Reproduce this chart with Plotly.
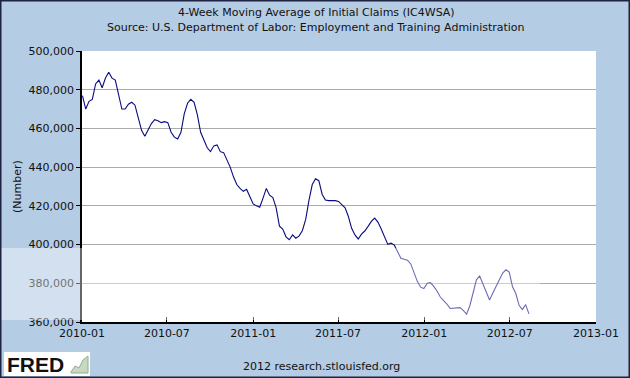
import plotly.graph_objects as go
import pandas as pd

start_date = "2010-01-02"
claims = [
    477, 470, 474, 475, 483, 485, 481, 486, 489, 486,
    485, 478, 470, 470, 472.5, 473.5, 472, 465.5, 459, 456,
    459, 462.5, 464.5, 464, 463, 463.5, 463, 458, 455.5, 454.5,
    458, 467.5, 473, 475, 473.5, 467, 458, 453.5, 450, 448,
    451, 451.5, 448, 447.5, 444, 440, 435, 431, 429, 427.5,
    428.5, 425, 421, 420, 419.3, 424, 429, 425.5, 424.3, 419,
    409.5, 408, 404, 402.5, 405, 403.3, 404.5, 407.3, 413, 423,
    431, 434, 433, 426, 423, 422.7, 422.7, 422.7, 422.3, 420.8,
    419, 414.5, 408.4, 405, 402.9, 405.4, 407, 409.4, 412, 413.7,
    411.6, 408, 404, 400.1, 400.7, 399.7, 396.3, 392.9, 392.4, 391.9,
    390, 385.5, 381, 378, 377.3, 380, 380.3, 378.4, 376, 372.9,
    371.2, 369.3, 367, 367.1, 367.5, 367.4, 366, 364, 368.4, 376,
    381.8, 383.8, 379.5, 375.4, 371.4, 375, 378.4, 381.7, 385.3, 387,
    385.8, 378.2, 374.7, 368.6, 366.4, 369, 364.2,
]
claims = [v * 1000 for v in claims]
dates = pd.date_range(start_date, periods=len(claims), freq="7D")

y_ticks = [360000, 380000, 400000, 420000, 440000, 460000, 480000, 500000]
x_ticks = ["2010-01-01", "2010-07-01", "2011-01-01", "2011-07-01",
           "2012-01-01", "2012-07-01", "2013-01-01"]
x_labels = ["2010-01", "2010-07", "2011-01", "2011-07", "2012-01", "2012-07", "2013-01"]

W, H = 630, 378
L, R, T, B = 82, 34, 51, 56
pw, ph = W - L - R, H - T - B

def px(x):
    return (x - L) / pw

def py(y):
    return (H - B - y) / ph

FONT = "DejaVu Sans"
BG = "#B4CCE4"
TXT = "#111111"

fig = go.Figure()
fig.add_trace(go.Scatter(
    x=dates, y=claims, mode="lines",
    line=dict(color="#0A0A80", width=1.1),
    hoverinfo="skip", showlegend=False,
))

fig.update_layout(
    width=W, height=H,
    margin=dict(l=L, r=R, t=T, b=B, autoexpand=False),
    paper_bgcolor=BG, plot_bgcolor="white",
    font=dict(family=FONT, size=11, color=TXT),
    xaxis=dict(
        range=["2010-01-01", "2013-01-01"],
        tickvals=x_ticks, ticktext=x_labels,
        showgrid=False, zeroline=False, automargin=False,
        showline=True, linecolor="black", linewidth=1.5,
        ticks="inside", ticklen=5, tickcolor="black",
        tickfont=dict(family=FONT, size=11, color=TXT),
    ),
    yaxis=dict(
        range=[360000, 500000],
        tickvals=y_ticks, tickformat=",d",
        showgrid=True, gridcolor="#ABABAB", gridwidth=1,
        zeroline=False, automargin=False,
        showline=True, linecolor="black", linewidth=1.5,
        ticks="outside", ticklen=4, tickcolor="black",
        tickfont=dict(family=FONT, size=11, color=TXT),
    ),
)

# titles
fig.add_annotation(text="4-Week Moving Average of Initial Claims (IC4WSA)",
                   xref="paper", yref="paper", x=px(316), y=py(13),
                   xanchor="center", yanchor="middle",
                   showarrow=False, font=dict(family=FONT, size=11, color=TXT))
fig.add_annotation(text="Source: U.S. Department of Labor: Employment and Training Administration",
                   xref="paper", yref="paper", x=px(316), y=py(27),
                   xanchor="center", yanchor="middle",
                   showarrow=False, font=dict(family=FONT, size=11, color=TXT))
fig.add_annotation(text="(Number)", textangle=-90,
                   xref="paper", yref="paper", x=px(17), y=py(187),
                   xanchor="center", yanchor="middle",
                   showarrow=False, font=dict(family=FONT, size=11, color=TXT))
fig.add_annotation(text="2012 research.stlouisfed.org",
                   xref="paper", yref="paper", x=px(321), y=py(366),
                   xanchor="center", yanchor="middle",
                   showarrow=False, font=dict(family=FONT, size=11, color=TXT))

# FRED logo box
fig.add_shape(type="rect", xref="paper", yref="paper",
              x0=px(4), x1=px(90), y0=py(376), y1=py(352),
              fillcolor="white", line=dict(width=0), layer="above")
fig.add_annotation(text="<b>FRED</b>", xref="paper", yref="paper",
                   x=px(5), y=py(364), xanchor="left", yanchor="middle", showarrow=False,
                   font=dict(family="Liberation Sans", size=21, color=TXT))
fig.add_shape(type="path", xref="paper", yref="paper",
              path=f"M {px(71)},{py(372)} L {px(75)},{py(366)} L {px(79)},{py(368)} L {px(83)},{py(360)} L {px(88)},{py(356)} L {px(88)},{py(373)} L {px(71)},{py(373)} Z",
              fillcolor="#C9D8C4", line=dict(color="#8FB08A", width=1), layer="above")

# watermark band
fig.add_shape(type="rect", xref="paper", yref="paper",
              x0=px(0), x1=px(540), y0=py(320), y1=py(248),
              fillcolor="white", opacity=0.4, line=dict(width=0), layer="above")

# outer border
fig.add_shape(type="rect", xref="paper", yref="paper",
              x0=px(0.5), x1=px(629.5), y0=py(377.5), y1=py(0.5),
              line=dict(color="#1C2240", width=2), layer="above")

fig.write_html(
    "out.html",
    config={"displayModeBar": False},
    post_script="document.body.style.margin='0';document.body.style.overflow='hidden';document.documentElement.style.overflow='hidden';",
)
